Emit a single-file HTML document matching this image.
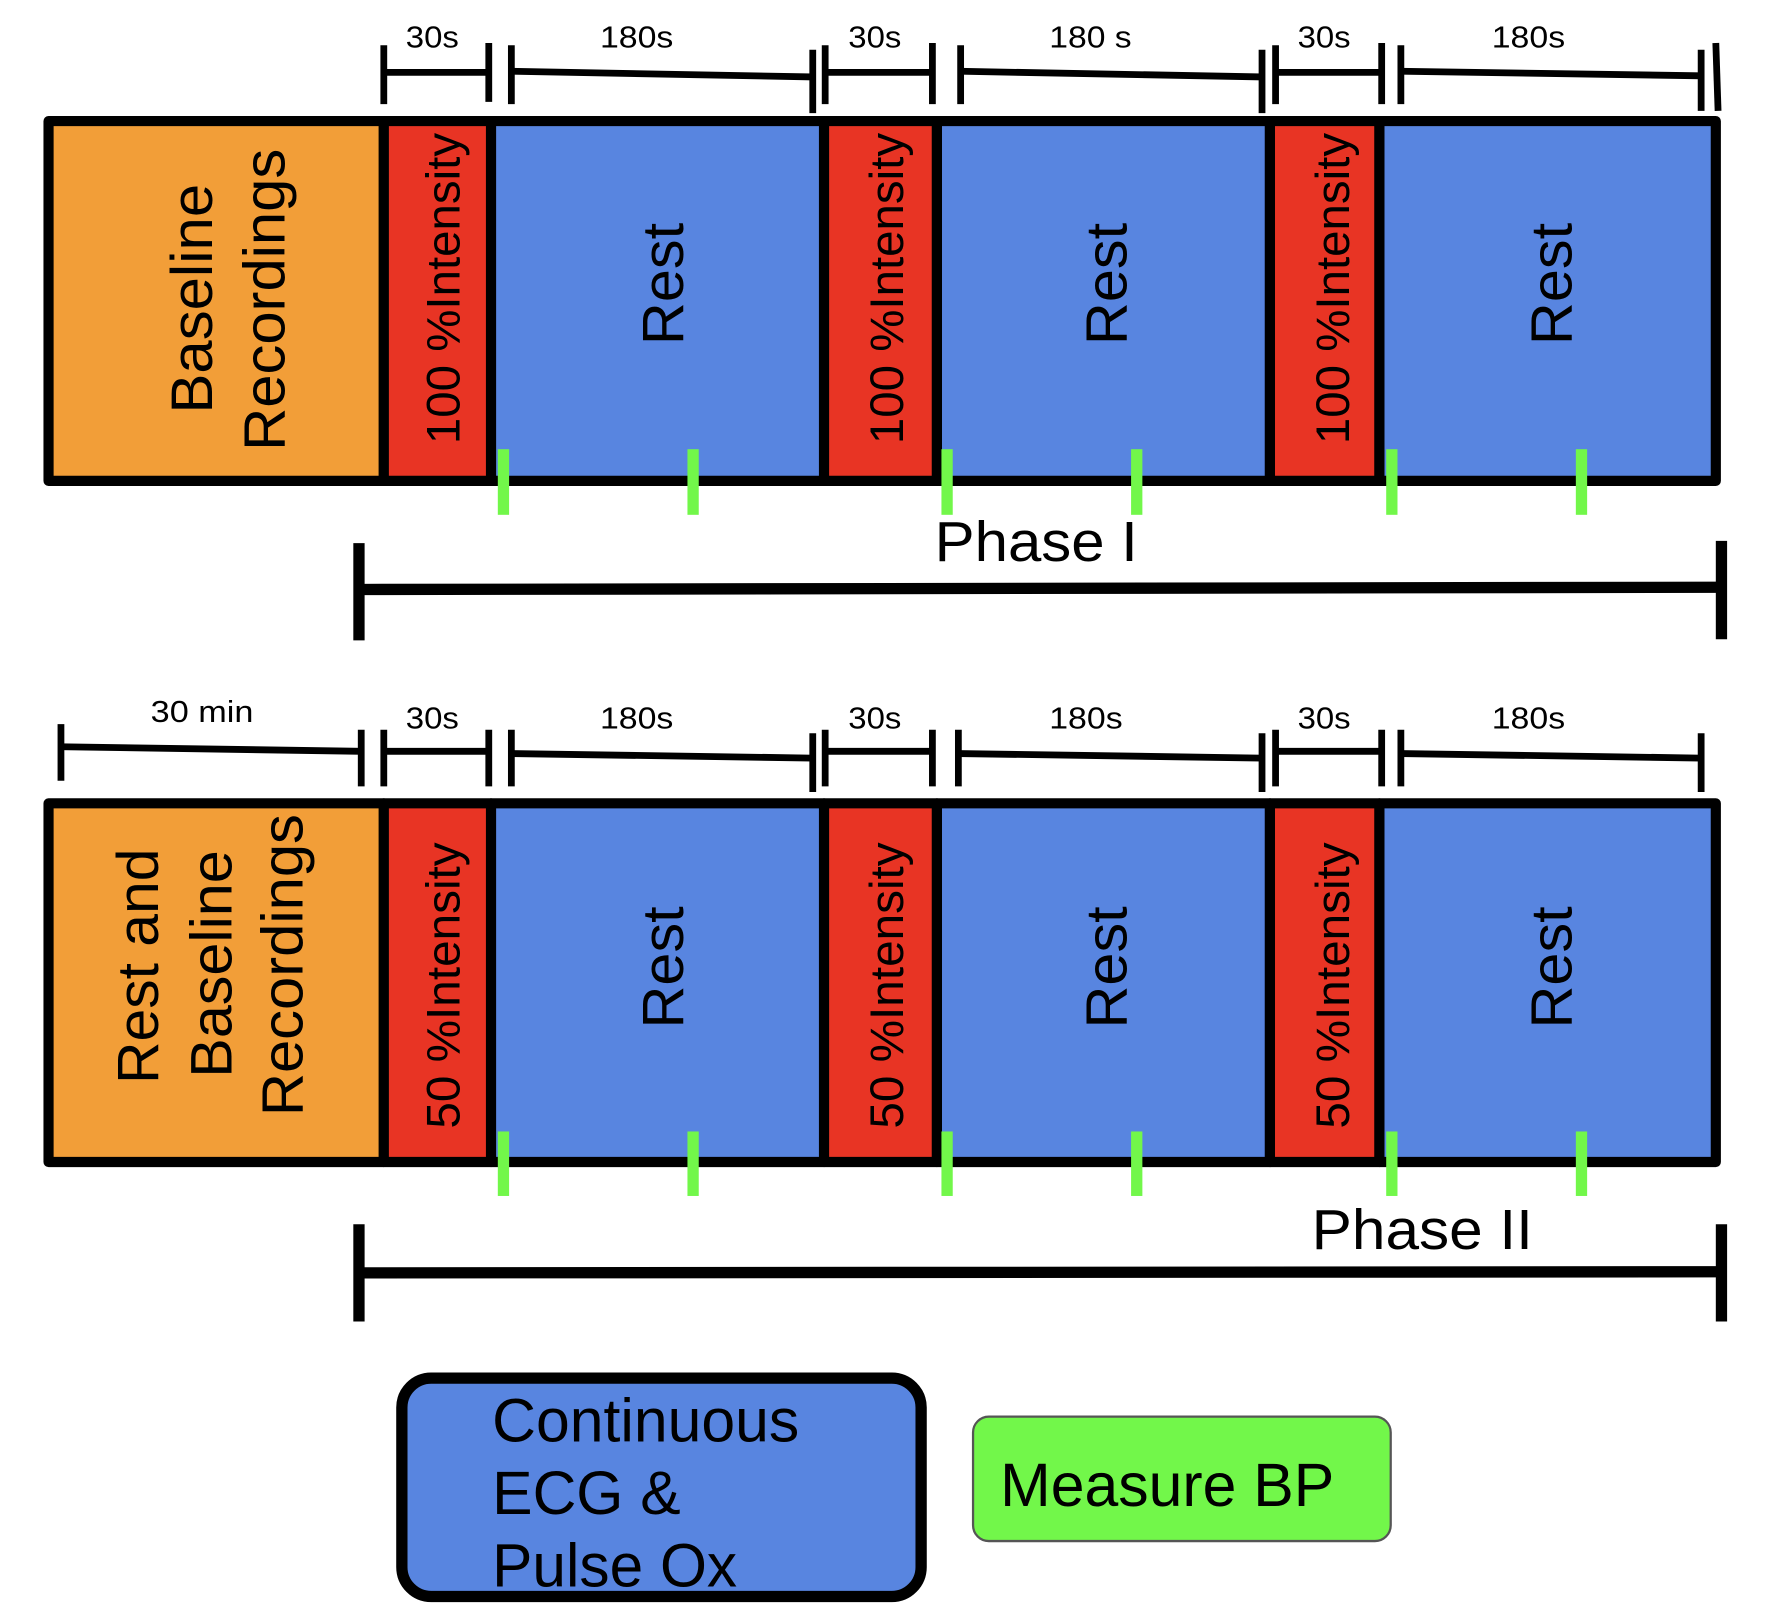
<!DOCTYPE html>
<html><head><meta charset="utf-8"><style>
html,body{margin:0;padding:0;background:#fff;}
svg{display:block;}
text{font-family:"Liberation Sans",Arial,sans-serif;fill:#000;}
</style></head><body>
<svg width="1770" height="1618" viewBox="0 0 1568 1430" preserveAspectRatio="none" xmlns="http://www.w3.org/2000/svg">
<g stroke="#000" stroke-width="9" stroke-linejoin="round">
<rect x="43" y="107" width="297" height="318" fill="#F29E38"/>
<rect x="340" y="107" width="95" height="318" fill="#E83424"/>
<rect x="435" y="107" width="295" height="318" fill="#5885E0"/>
<rect x="730" y="107" width="100" height="318" fill="#E83424"/>
<rect x="830" y="107" width="295" height="318" fill="#5885E0"/>
<rect x="1125" y="107" width="97" height="318" fill="#E83424"/>
<rect x="1222" y="107" width="298" height="318" fill="#5885E0"/>
<rect x="43" y="710" width="297" height="317" fill="#F29E38"/>
<rect x="340" y="710" width="95" height="317" fill="#E83424"/>
<rect x="435" y="710" width="295" height="317" fill="#5885E0"/>
<rect x="730" y="710" width="100" height="317" fill="#E83424"/>
<rect x="830" y="710" width="295" height="317" fill="#5885E0"/>
<rect x="1125" y="710" width="97" height="317" fill="#E83424"/>
<rect x="1222" y="710" width="298" height="317" fill="#5885E0"/>
</g>
<g fill="#72F74A">
<rect x="441" y="397" width="10" height="58"/><rect x="609" y="397" width="10" height="58"/>
<rect x="834" y="397" width="10" height="58"/><rect x="1002" y="397" width="10" height="58"/>
<rect x="1228" y="397" width="10" height="58"/><rect x="1396" y="397" width="10" height="58"/>
<rect x="441" y="1000" width="10" height="57"/><rect x="609" y="1000" width="10" height="57"/>
<rect x="834" y="1000" width="10" height="57"/><rect x="1002" y="1000" width="10" height="57"/>
<rect x="1228" y="1000" width="10" height="57"/><rect x="1396" y="1000" width="10" height="57"/>
</g>
<g stroke="#000" fill="none">
<g stroke-width="6">
<line x1="340" y1="40" x2="340" y2="92"/><line x1="433" y1="38" x2="433" y2="90"/><line x1="340" y1="64" x2="433" y2="64"/>
<line x1="453" y1="40" x2="453" y2="92"/><line x1="720" y1="44" x2="720" y2="100"/><line x1="453" y1="63" x2="720" y2="68"/>
<line x1="731" y1="40" x2="731" y2="92"/><line x1="826" y1="38" x2="826" y2="92"/><line x1="731" y1="64" x2="826" y2="64"/>
<line x1="851" y1="40" x2="851" y2="92"/><line x1="1118" y1="44" x2="1118" y2="100"/><line x1="851" y1="63" x2="1118" y2="68"/>
<line x1="1130" y1="40" x2="1130" y2="92"/><line x1="1224" y1="38" x2="1224" y2="92"/><line x1="1130" y1="64" x2="1224" y2="64"/>
<line x1="1241" y1="40" x2="1241" y2="92"/><line x1="1507" y1="44" x2="1507" y2="98"/><line x1="1241" y1="63" x2="1507" y2="67"/>
<line x1="1520" y1="38" x2="1522" y2="98"/>
<line x1="54" y1="640" x2="54" y2="690"/><line x1="320" y1="645" x2="320" y2="695"/><line x1="54" y1="660" x2="320" y2="664"/>
<line x1="340" y1="645" x2="340" y2="695"/><line x1="433" y1="645" x2="433" y2="695"/><line x1="340" y1="664" x2="433" y2="664"/>
<line x1="453" y1="645" x2="453" y2="695"/><line x1="720" y1="648" x2="720" y2="700"/><line x1="453" y1="666" x2="720" y2="670"/>
<line x1="731" y1="645" x2="731" y2="695"/><line x1="826" y1="645" x2="826" y2="695"/><line x1="731" y1="664" x2="826" y2="664"/>
<line x1="849" y1="645" x2="849" y2="695"/><line x1="1118" y1="648" x2="1118" y2="700"/><line x1="849" y1="666" x2="1118" y2="670"/>
<line x1="1130" y1="645" x2="1130" y2="695"/><line x1="1224" y1="645" x2="1224" y2="695"/><line x1="1130" y1="664" x2="1224" y2="664"/>
<line x1="1241" y1="645" x2="1241" y2="695"/><line x1="1507" y1="648" x2="1507" y2="700"/><line x1="1241" y1="666" x2="1507" y2="670"/>
</g>
<g stroke-width="10">
<line x1="318" y1="480" x2="318" y2="566"/><line x1="1525" y1="478" x2="1525" y2="565"/><line x1="318" y1="521" x2="1525" y2="519"/>
<line x1="318" y1="1082" x2="318" y2="1168"/><line x1="1525" y1="1082" x2="1525" y2="1168"/><line x1="318" y1="1125" x2="1525" y2="1124"/>
</g>
</g>
<g font-size="27" text-anchor="middle" lengthAdjust="spacingAndGlyphs">
<text x="383" y="42" textLength="47" lengthAdjust="spacingAndGlyphs">30s</text>
<text x="564" y="42" textLength="65" lengthAdjust="spacingAndGlyphs">180s</text>
<text x="775" y="42" textLength="47" lengthAdjust="spacingAndGlyphs">30s</text>
<text x="966" y="42" textLength="73" lengthAdjust="spacingAndGlyphs">180 s</text>
<text x="1173" y="42" textLength="47" lengthAdjust="spacingAndGlyphs">30s</text>
<text x="1354" y="42" textLength="65" lengthAdjust="spacingAndGlyphs">180s</text>
<text x="179" y="638" textLength="91" lengthAdjust="spacingAndGlyphs">30 min</text>
<text x="383" y="644" textLength="47" lengthAdjust="spacingAndGlyphs">30s</text>
<text x="564" y="644" textLength="65" lengthAdjust="spacingAndGlyphs">180s</text>
<text x="775" y="644" textLength="47" lengthAdjust="spacingAndGlyphs">30s</text>
<text x="962" y="644" textLength="65" lengthAdjust="spacingAndGlyphs">180s</text>
<text x="1173" y="644" textLength="47" lengthAdjust="spacingAndGlyphs">30s</text>
<text x="1354" y="644" textLength="65" lengthAdjust="spacingAndGlyphs">180s</text>
</g>
<text x="918" y="496" font-size="50" text-anchor="middle" textLength="180" lengthAdjust="spacingAndGlyphs">Phase I</text>
<text x="1260" y="1104" font-size="50" text-anchor="middle" textLength="196" lengthAdjust="spacingAndGlyphs">Phase II</text>
<g font-size="52" text-anchor="middle">
<text transform="translate(188,264) rotate(-90)" textLength="203" lengthAdjust="spacingAndGlyphs">Baseline</text>
<text transform="translate(252,265) rotate(-90)" textLength="267" lengthAdjust="spacingAndGlyphs">Recordings</text>
<text transform="translate(605,251) rotate(-90)" textLength="108" lengthAdjust="spacingAndGlyphs">Rest</text>
<text transform="translate(998,251) rotate(-90)" textLength="108" lengthAdjust="spacingAndGlyphs">Rest</text>
<text transform="translate(1392,251) rotate(-90)" textLength="108" lengthAdjust="spacingAndGlyphs">Rest</text>
<text transform="translate(605,855) rotate(-90)" textLength="108" lengthAdjust="spacingAndGlyphs">Rest</text>
<text transform="translate(998,855) rotate(-90)" textLength="108" lengthAdjust="spacingAndGlyphs">Rest</text>
<text transform="translate(1392,855) rotate(-90)" textLength="108" lengthAdjust="spacingAndGlyphs">Rest</text>
<text transform="translate(140,854) rotate(-90)" textLength="208" lengthAdjust="spacingAndGlyphs">Rest and</text>
<text transform="translate(205,852) rotate(-90)" textLength="201" lengthAdjust="spacingAndGlyphs">Baseline</text>
<text transform="translate(268,853) rotate(-90)" textLength="267" lengthAdjust="spacingAndGlyphs">Recordings</text>
</g>
<g font-size="42" text-anchor="middle">
<text transform="translate(407,255) rotate(-90)" textLength="275" lengthAdjust="spacingAndGlyphs">100 %Intensity</text>
<text transform="translate(800,255) rotate(-90)" textLength="275" lengthAdjust="spacingAndGlyphs">100 %Intensity</text>
<text transform="translate(1195,255) rotate(-90)" textLength="275" lengthAdjust="spacingAndGlyphs">100 %Intensity</text>
<text transform="translate(407,871) rotate(-90)" textLength="253" lengthAdjust="spacingAndGlyphs">50 %Intensity</text>
<text transform="translate(800,871) rotate(-90)" textLength="253" lengthAdjust="spacingAndGlyphs">50 %Intensity</text>
<text transform="translate(1195,871) rotate(-90)" textLength="253" lengthAdjust="spacingAndGlyphs">50 %Intensity</text>
</g>
<rect x="356" y="1218" width="460" height="193" rx="26" fill="#5885E0" stroke="#000" stroke-width="10"/>
<g font-size="54">
<text x="436" y="1274" textLength="272" lengthAdjust="spacingAndGlyphs">Continuous</text>
<text x="436" y="1338" textLength="167" lengthAdjust="spacingAndGlyphs">ECG &amp;</text>
<text x="436" y="1402" textLength="217" lengthAdjust="spacingAndGlyphs">Pulse Ox</text>
</g>
<rect x="862" y="1252" width="370" height="110" rx="14" fill="#72F74A" stroke="#555" stroke-width="2"/>
<text x="886" y="1331" font-size="54" textLength="296" lengthAdjust="spacingAndGlyphs">Measure BP</text>
</svg>
</body></html>
